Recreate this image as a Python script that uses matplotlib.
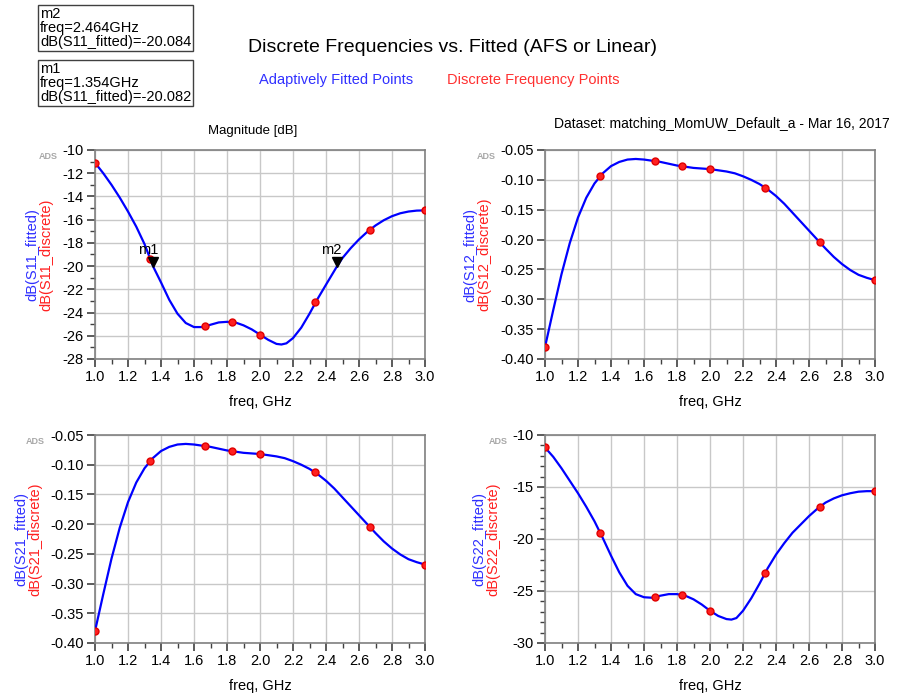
import numpy as np
import matplotlib
matplotlib.use("Agg")
import matplotlib.pyplot as plt
from matplotlib.ticker import MultipleLocator
from matplotlib.transforms import offset_copy

plt.rcParams["font.family"] = ["Liberation Sans", "DejaVu Sans"]

# discrete simulation frequencies (GHz)
freq_discrete = [1.0, 1.333, 1.667, 1.833, 2.0, 2.333, 2.667, 3.0]

s11_discrete = [-11.1, -19.4, -25.15, -24.8, -25.9, -23.1, -16.85, -15.2]
s12_discrete = [-0.380, -0.093, -0.069, -0.077, -0.082, -0.113, -0.204, -0.268]
s21_discrete = [-0.380, -0.093, -0.069, -0.077, -0.082, -0.113, -0.204, -0.268]
s22_discrete = [-11.2, -19.4, -25.6, -25.4, -26.9, -23.3, -16.9, -15.4]

# adaptively fitted curves
freq_s11_fit = [1.0, 1.05, 1.1, 1.15, 1.2, 1.25, 1.3, 1.354, 1.4, 1.45, 1.5, 1.55, 1.6, 1.65,
                1.7, 1.75, 1.8, 1.85, 1.9, 1.95, 2.0, 2.05, 2.1, 2.13, 2.16, 2.2, 2.25, 2.3,
                2.35, 2.4, 2.464, 2.5, 2.55, 2.6, 2.65, 2.7, 2.75, 2.8, 2.85, 2.9, 2.95, 3.0]
s11_fit = [-11.1, -12.0, -13.0, -14.1, -15.3, -16.6, -18.1, -20.08, -21.4, -22.9, -24.1, -24.9,
           -25.25, -25.25, -25.05, -24.85, -24.8, -24.85, -25.1, -25.45, -25.9, -26.35, -26.7,
           -26.75, -26.65, -26.2, -25.3, -24.1, -22.8, -21.6, -20.08, -19.3, -18.45, -17.7,
           -17.05, -16.5, -16.05, -15.7, -15.45, -15.3, -15.22, -15.2]

freq_s12_fit = [1.0, 1.05, 1.1, 1.15, 1.2, 1.25, 1.3, 1.35, 1.4, 1.45, 1.5, 1.55, 1.6, 1.65,
                1.7, 1.75, 1.8, 1.85, 1.9, 1.95, 2.0, 2.05, 2.1, 2.15, 2.2, 2.25, 2.3, 2.35,
                2.4, 2.45, 2.5, 2.55, 2.6, 2.65, 2.7, 2.75, 2.8, 2.85, 2.9, 2.95, 3.0]
s12_fit = [-0.380, -0.318, -0.258, -0.206, -0.163, -0.130, -0.106, -0.089, -0.077, -0.070,
           -0.066, -0.065, -0.066, -0.068, -0.070, -0.073, -0.076, -0.078, -0.080, -0.081,
           -0.082, -0.084, -0.086, -0.089, -0.094, -0.100, -0.107, -0.116, -0.127, -0.140,
           -0.155, -0.170, -0.185, -0.200, -0.215, -0.229, -0.241, -0.251, -0.259, -0.264,
           -0.268]
freq_s21_fit = freq_s12_fit
s21_fit = s12_fit

freq_s22_fit = [1.0, 1.05, 1.1, 1.15, 1.2, 1.25, 1.3, 1.35, 1.4, 1.45, 1.5, 1.55, 1.6, 1.65,
                1.7, 1.75, 1.8, 1.85, 1.9, 1.95, 2.0, 2.05, 2.1, 2.13, 2.16, 2.2, 2.25, 2.3,
                2.35, 2.4, 2.45, 2.5, 2.55, 2.6, 2.65, 2.7, 2.75, 2.8, 2.85, 2.9, 2.95, 3.0]
s22_fit = [-11.2, -12.1, -13.2, -14.4, -15.6, -16.9, -18.3, -19.9, -21.6, -23.2, -24.5, -25.3,
           -25.6, -25.65, -25.45, -25.3, -25.3, -25.45, -25.8, -26.3, -26.9, -27.4, -27.7,
           -27.75, -27.6, -26.9, -25.7, -24.3, -22.8, -21.5, -20.4, -19.4, -18.6, -17.8,
           -17.1, -16.5, -16.1, -15.8, -15.6, -15.45, -15.4, -15.4]

plots = [
    ("S11", freq_s11_fit, s11_fit, s11_discrete, (-28, -10), 2, 1),
    ("S12", freq_s12_fit, s12_fit, s12_discrete, (-0.40, -0.05), 0.05, None),
    ("S21", freq_s21_fit, s21_fit, s21_discrete, (-0.40, -0.05), 0.05, None),
    ("S22", freq_s22_fit, s22_fit, s22_discrete, (-30, -10), 5, 1),
]
positions = [
    [95 / 919, 341 / 700, 330 / 919, 209 / 700],
    [545 / 919, 341 / 700, 330 / 919, 209 / 700],
    [95 / 919, 57 / 700, 330 / 919, 208 / 700],
    [545 / 919, 57 / 700, 330 / 919, 208 / 700],
]
ylabel_offset = [63, 75, 74, 66]   # px left of axes for the blue label
ads_offset = [47, 59, 60, 47]

fig = plt.figure(figsize=(9.19, 7.0), dpi=100)
axes = []
for (name, fx, fy, dy, ylim, major, minor), pos, yo, ao in zip(plots, positions,
                                                             ylabel_offset, ads_offset):
    ax = fig.add_axes(pos)
    ax.plot(fx, fy, color="#0000ff", lw=1.6, zorder=3)
    ax.plot(freq_discrete, dy, "o", color="#ff2020", ms=5, mec="#e00000", zorder=4)
    ax.set_xlim(1.0, 3.0)
    ax.set_ylim(*ylim)
    ax.xaxis.set_major_locator(MultipleLocator(0.2))
    ax.xaxis.set_minor_locator(MultipleLocator(0.1))
    ax.yaxis.set_major_locator(MultipleLocator(major))
    if minor:
        ax.yaxis.set_minor_locator(MultipleLocator(minor))
    if major == 0.05:
        ax.yaxis.set_major_formatter(plt.FormatStrFormatter("%.2f"))
    else:
        ax.yaxis.set_major_formatter(plt.FormatStrFormatter("%d"))
    ax.xaxis.set_major_formatter(plt.FormatStrFormatter("%.1f"))
    ax.grid(True, which="major", color="#c8c8c8", lw=1.0)
    ax.set_axisbelow(True)
    for sp in ax.spines.values():
        sp.set_color("#808080")
        sp.set_linewidth(1.2)
    ax.tick_params(which="major", direction="out", length=6, width=1.2, color="#404040",
                   labelsize=10.5, pad=2)
    ax.tick_params(which="minor", direction="out", length=3.5, width=1.0, color="#404040")
    ax.set_xlabel("freq, GHz", fontsize=10.5, labelpad=8)
    fig.text(pos[0] - ao / 919, pos[1] + pos[3] - 7 / 700, "ADS", fontsize=6.5,
             color="#a8a8a8", ha="center", va="center", fontweight="bold")
    # two-colour y label
    xl = pos[0] - yo / 919
    yc = pos[1] + pos[3] / 2
    fig.text(xl, yc, "dB(%s_fitted)" % name, rotation=90, color="#3030ff",
             fontsize=10.5, ha="center", va="center")
    fig.text(xl + 14 / 919, yc, "dB(%s_discrete)" % name, rotation=90, color="#ff2020",
             fontsize=10.5, ha="center", va="center")
    axes.append(ax)

# markers on S11 (triangle apex sits on the trace)
ax = axes[0]
tri = offset_copy(ax.transData, fig=fig, y=3.5, units="points")
for label, mx, my in [("m1", 1.354, -20.082), ("m2", 2.464, -20.084)]:
    ax.plot(mx, my, marker="v", color="black", ms=7, zorder=5, linestyle="none",
            transform=tri)
    ax.annotate(label, (mx, my), xytext=(-4, 7), textcoords="offset points",
                fontsize=10.5, ha="center", va="bottom")

fig.text(453 / 919, 1 - 48 / 700, "Discrete Frequencies vs. Fitted (AFS or Linear)",
         fontsize=14, ha="center", va="center")
fig.text(336 / 919, 1 - 80 / 700, "Adaptively Fitted Points", fontsize=10.5,
         color="#3030ff", ha="center", va="center")
fig.text(533 / 919, 1 - 80 / 700, "Discrete Frequency Points", fontsize=10.5,
         color="#ff3030", ha="center", va="center")
fig.text(253 / 919, 1 - 131 / 700, "Magnitude [dB]", fontsize=9.5,
         ha="center", va="center")
fig.text(890 / 919, 1 - 124 / 700, "Dataset: matching_MomUW_Default_a - Mar 16, 2017",
         fontsize=10, ha="right", va="center")

# marker readout boxes
for top, txt in [(5, "m2\nfreq=2.464GHz\ndB(S11_fitted)=-20.084"),
                 (60, "m1\nfreq=1.354GHz\ndB(S11_fitted)=-20.082")]:
    fig.text(40 / 919, 1 - (top + 2) / 700, txt, fontsize=10.5, ha="left", va="top",
             linespacing=1.02,
             bbox=dict(boxstyle="square,pad=0.12", fc="white", ec="#404040", lw=1.0))

fig.savefig("out.png", dpi=100)
